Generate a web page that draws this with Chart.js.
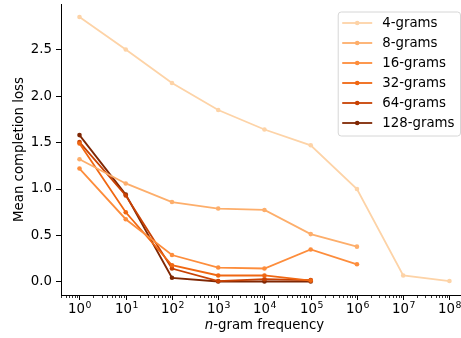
<!DOCTYPE html>
<html>
<head>
<meta charset="utf-8">
<script src="https://cdn.jsdelivr.net/npm/chart.js@4.4.1/dist/chart.umd.min.js"></script>
<style>
  html, body { margin: 0; padding: 0; background: #fff; }
  #wrap { width: 461px; height: 338px; }
</style>
</head>
<body>
<div id="wrap"><canvas id="ngramChart"></canvas></div>
<script>
// frequências n-gram (eixo x, escala log)
const frequencies = [1, 10, 100, 1e3, 1e4, 1e5, 1e6, 1e7, 1e8];
const seriesLabels = ['4-grams', '8-grams', '16-grams', '32-grams', '64-grams', '128-grams'];
const loss4 = [2.85, 2.50, 2.14, 1.85, 1.64, 1.47, 1.00, 0.07, 0.01];
const loss8 = [1.32, 1.06, 0.86, 0.79, 0.775, 0.515, 0.38];
const loss16 = [1.22, 0.675, 0.29, 0.155, 0.145, 0.35, 0.19];
const loss32 = [1.49, 0.75, 0.18, 0.07, 0.07, 0.015];
const loss64 = [1.505, 0.93, 0.145, 0.01, 0.03, 0.02];
const loss128 = [1.58, 0.94, 0.045, 0.005, 0.005, 0.005];
const yTicks = [0, 0.5, 1.0, 1.5, 2.0, 2.5];
const colors = ['#fdd3a7', '#fdae6b', '#fd8d3c', '#f06712', '#c84204', '#7f2704'];

const allLoss = [loss4, loss8, loss16, loss32, loss64, loss128];
const FONT = 'DejaVu Sans';
const FS = 13.33;

// ticks menores do eixo log
function logTicks(lo, hi) {
    const t = [];
    for (let e = Math.floor(Math.log10(lo)); e <= Math.ceil(Math.log10(hi)); e++) {
        for (let m = 1; m <= 9; m++) {
            const v = m * Math.pow(10, e);
            if (v >= lo && v <= hi) t.push({ value: v, major: m === 1 });
        }
    }
    return t;
}

const xAxisDecor = {
    id: 'xAxisDecor',
    afterDraw(chart) {
        const ctx = chart.ctx;
        const xs = chart.scales.x;
        ctx.save();
        ctx.strokeStyle = '#000';
        ctx.fillStyle = '#000';
        xs.ticks.forEach(t => {
            const px = Math.round(xs.getPixelForValue(t.value)) + 0.5;
            if (px < xs.left - 1 || px > xs.right + 1) return;
            ctx.lineWidth = t.major ? 1 : 0.8;
            ctx.beginPath();
            ctx.moveTo(px, xs.top);
            ctx.lineTo(px, xs.top + (t.major ? 5 : 3));
            ctx.stroke();
            if (!t.major) return;
            // rótulo 10^k
            const exp = String(Math.round(Math.log10(t.value)));
            ctx.textAlign = 'left';
            ctx.textBaseline = 'alphabetic';
            ctx.font = FS + 'px "' + FONT + '"';
            const wb = ctx.measureText('10').width;
            ctx.font = (FS * 0.7) + 'px "' + FONT + '"';
            const we = ctx.measureText(exp).width;
            const x0 = px - (wb + we) / 2;
            ctx.font = FS + 'px "' + FONT + '"';
            ctx.fillText('10', x0, xs.top + 18);
            ctx.font = (FS * 0.7) + 'px "' + FONT + '"';
            ctx.fillText(exp, x0 + wb + 0.5, xs.top + 12.5);
        });
        // título do eixo x com n em itálico
        const cx = xs.getPixelForValue(1e4);
        const y = 326;
        ctx.textBaseline = 'middle';
        ctx.font = 'italic ' + FS + 'px "' + FONT + '"';
        const w1 = ctx.measureText('n').width;
        ctx.font = FS + 'px "' + FONT + '"';
        const w2 = ctx.measureText('-gram frequency').width;
        const x0 = cx - (w1 + w2) / 2;
        ctx.textAlign = 'left';
        ctx.font = 'italic ' + FS + 'px "' + FONT + '"';
        ctx.fillText('n', x0, y);
        ctx.font = FS + 'px "' + FONT + '"';
        ctx.fillText('-gram frequency', x0 + w1, y);
        ctx.restore();
    }
};

const legendBox = {
    id: 'legendBox',
    afterDraw(chart) {
        const ctx = chart.ctx;
        const area = chart.chartArea;
        ctx.save();
        ctx.font = FS + 'px "' + FONT + '"';
        let maxW = 0;
        chart.data.datasets.forEach(d => { maxW = Math.max(maxW, ctx.measureText(d.label).width); });
        const w = 44 + maxW + 6;
        const h = 124;
        const right = area.right - 0.5;
        const left = right - w;
        const top = area.top + 8;
        ctx.beginPath();
        ctx.roundRect(left, top, w, h, 3);
        ctx.fillStyle = 'rgba(255,255,255,0.8)';
        ctx.fill();
        ctx.strokeStyle = '#d6d6d6';
        ctx.lineWidth = 1;
        ctx.stroke();
        chart.data.datasets.forEach((d, i) => {
            const y = top + 11 + i * 20;
            ctx.strokeStyle = d.borderColor;
            ctx.lineWidth = 1.8;
            ctx.beginPath();
            ctx.moveTo(left + 4, y);
            ctx.lineTo(left + 34, y);
            ctx.stroke();
            ctx.fillStyle = d.borderColor;
            ctx.beginPath();
            ctx.arc(left + 19, y, 2.3, 0, Math.PI * 2);
            ctx.fill();
            ctx.fillStyle = '#000';
            ctx.textAlign = 'left';
            ctx.textBaseline = 'middle';
            ctx.fillText(d.label, left + 44, y + 1);
        });
        ctx.restore();
    }
};

document.addEventListener('DOMContentLoaded', function() {
    const el = document.getElementById('ngramChart');
    new Chart(el, {
        type: 'line',
        data: {
            datasets: seriesLabels.map((label, i) => ({
                label: label,
                data: allLoss[i].map((v, j) => ({ x: frequencies[j], y: v })),
                borderColor: colors[i],
                backgroundColor: colors[i],
                pointBackgroundColor: colors[i],
                pointBorderWidth: 0,
                pointRadius: 2.3,
                borderWidth: 1.8,
                tension: 0,
                fill: false
            }))
        },
        options: {
            responsive: true,
            maintainAspectRatio: false,
            animation: false,
            events: [],
            layout: { autoPadding: false, padding: { top: 4, right: 0, left: 0, bottom: 0 } },
            plugins: { legend: { display: false }, tooltip: { enabled: false } },
            scales: {
                x: {
                    type: 'logarithmic',
                    min: Math.pow(10, -0.4),
                    max: Math.pow(10, 8.25),
                    afterBuildTicks: s => { s.ticks = logTicks(s.min, s.max); },
                    afterFit: s => { s.height = 43; s.paddingLeft = 0; s.paddingRight = 0; },
                    border: { display: true, color: '#000', width: 1 },
                    grid: { display: false },
                    ticks: { display: false }
                },
                y: {
                    type: 'linear',
                    min: -0.14,
                    max: 2.99,
                    afterBuildTicks: s => { s.ticks = yTicks.map(v => ({ value: v })); },
                    afterFit: s => { s.width = 61; s.paddingTop = 0; s.paddingBottom = 0; },
                    border: { display: true, color: '#000', width: 1 },
                    grid: { drawOnChartArea: false, drawTicks: true, tickLength: 5, color: '#000' },
                    ticks: {
                        padding: 4,
                        color: '#000',
                        font: { family: FONT, size: FS },
                        callback: v => v.toFixed(1)
                    },
                    title: {
                        display: true,
                        text: 'Mean completion loss',
                        color: '#000',
                        font: { family: FONT, size: FS },
                        padding: { top: 12, bottom: 0 }
                    }
                }
            }
        },
        plugins: [xAxisDecor, legendBox]
    });
});
</script>
</body>
</html>
